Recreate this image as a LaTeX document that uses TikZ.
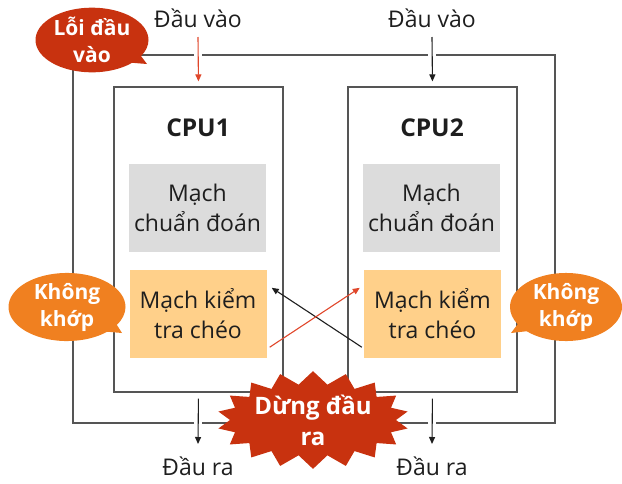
\documentclass[tikz,border=0pt]{standalone}
\usepackage{fontspec}
\setmainfont{Open Sans}
\usetikzlibrary{shapes.callouts,shapes.symbols,arrows.meta}
\definecolor{bred}{HTML}{C8320F}
\definecolor{borange}{HTML}{F08020}
\definecolor{arrred}{HTML}{E0472B}
\definecolor{graybox}{HTML}{DCDCDC}
\definecolor{orangebox}{HTML}{FFD08A}
\definecolor{linec}{HTML}{555555}
\definecolor{txt}{HTML}{1E1E1E}
\begin{document}
\begin{tikzpicture}[x=1pt,y=-1pt,
  cpubox/.style={draw=linec, line width=1.2pt, fill=white, minimum width=169pt, minimum height=305pt, inner sep=0pt},
  innerbox/.style={minimum width=137pt, minimum height=88pt, inner sep=0pt, align=center, text=txt,
    font=\fontsize{23}{30}\selectfont},
  diagbox/.style={innerbox, fill=graybox},
  checkbox/.style={innerbox, fill=orangebox},
  cpulabel/.style={text=txt, font=\fontsize{24.5}{28}\selectfont\bfseries},
  iolabel/.style={text=txt, font=\fontsize{23}{27}\selectfont},
  loopline/.style={draw=linec, line width=1.2pt},
  blackarrow/.style={draw=txt, line width=1.1pt, -{Triangle[length=7pt,width=6pt]}},
  redarrow/.style={draw=arrred, line width=1.1pt, -{Triangle[length=7pt,width=6pt]}},
  bubble/.style={ellipse callout, draw=none, text=white, align=center, inner sep=0pt,
    font=\fontsize{21}{27}\selectfont\bfseries},
]
\useasboundingbox (0,0) rectangle (622,483);

% outer monitoring loop
\coordinate (TL) at (73,55);
\coordinate (TR) at (555,55);
\coordinate (BR) at (555,423);
\coordinate (BL) at (73,423);
\coordinate (t1a) at (194,55); \coordinate (t1b) at (202,55);
\coordinate (t2a) at (428,55); \coordinate (t2b) at (436,55);
\coordinate (b1a) at (194,423); \coordinate (b1b) at (202,423);
\coordinate (b2a) at (428,423); \coordinate (b2b) at (436,423);
\draw[loopline] (TL) -- (t1a);
\draw[loopline] (t1b) -- (t2a);
\draw[loopline] (t2b) -- (TR) -- (BR) -- (b2b);
\draw[loopline] (b2a) -- (b1b);
\draw[loopline] (b1a) -- (BL) -- (TL);

% CPUs
\node[cpubox] (cpu1) at (198.5,239.5) {};
\node[cpubox] (cpu2) at (432.5,239.5) {};
\node[cpulabel] (c1lbl) at (198,128) {CPU1};
\node[cpulabel] (c2lbl) at (432,128) {CPU2};
\node[diagbox] (g1) at (197.5,208) {Mạch\\chuẩn đoán};
\node[diagbox] (g2) at (431.5,208) {Mạch\\chuẩn đoán};
\node[checkbox] (o1) at (198,314) {Mạch kiểm\\tra chéo};
\node[checkbox] (o2) at (432.5,314) {Mạch kiểm\\tra chéo};

% inputs
\node[iolabel] (in1) at (198,18) {Đầu vào};
\node[iolabel] (in2) at (432,18) {Đầu vào};
\coordinate (in1s) at (198,37);
\coordinate (in2s) at (432,37);
\draw[redarrow, shorten >=5pt] (in1s) -- (cpu1.north);
\draw[blackarrow, shorten >=5pt] (in2s) -- (cpu2.north);

% outputs
\node[iolabel] (out1) at (198,466) {Đầu ra};
\node[iolabel] (out2) at (432,466) {Đầu ra};
\coordinate (out1e) at (198,444);
\coordinate (out2e) at (432,444);
\draw[blackarrow, shorten <=6pt] (cpu1.south) -- (out1e);
\draw[blackarrow, shorten <=6pt] (cpu2.south) -- (out2e);

% cross check
\draw[blackarrow] ([xshift=-2pt,yshift=11pt]o2.south west) -- ([xshift=5pt,yshift=-18pt]o1.north east);
\draw[redarrow] ([xshift=3pt,yshift=11pt]o1.south east) -- ([xshift=-4pt,yshift=-18pt]o2.north west);

% callouts
\node[bubble, fill=bred, minimum width=113pt, minimum height=61pt,
  callout absolute pointer={(147,64)}] (err) at (92,40) {Lỗi đầu\\vào};
\node[bubble, fill=borange, minimum width=117pt, minimum height=61pt,
  callout absolute pointer={(122,333)}] (nm1) at (67,307) {Không\\khớp};
\node[bubble, fill=borange, minimum width=112pt, minimum height=60pt,
  callout absolute pointer={(511,333)}] (nm2) at (566,307) {Không\\khớp};

% stop output
\node[starburst, fill=bred, draw=none, text=white, align=center, inner sep=0pt,
  starburst points=18, starburst point height=13pt, random starburst=0,
  minimum width=174pt, minimum height=92pt,
  font=\fontsize{24}{31}\selectfont\bfseries] (stop) at (313,420) {Dừng đầu\\ra};
\end{tikzpicture}
\end{document}
